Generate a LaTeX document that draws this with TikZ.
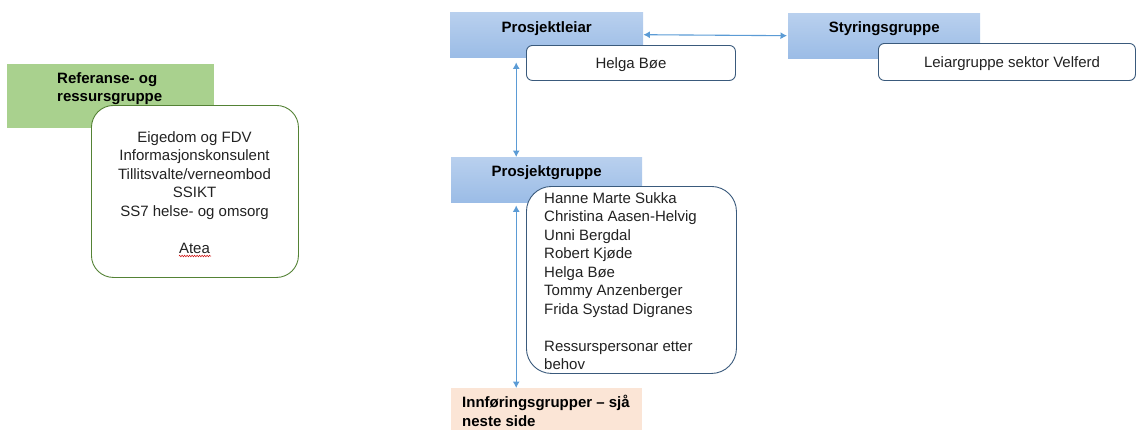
\documentclass[tikz,border=0pt]{standalone}
\usepackage{fontspec}
\setmainfont{Liberation Sans}
\usetikzlibrary{arrows.meta,decorations.pathmorphing}
\definecolor{arrblue}{HTML}{5B9BD5}
\definecolor{hdtop}{HTML}{B9D0EE}
\definecolor{hdbot}{HTML}{9BBCE6}
\definecolor{refgreen}{HTML}{A9D18E}
\definecolor{greenline}{HTML}{548235}
\definecolor{navyline}{HTML}{3A5A7C}
\definecolor{peach}{HTML}{FBE5D6}
\definecolor{txt}{HTML}{222222}
\begin{document}
\begin{tikzpicture}[x=1pt,y=-1pt,
  every node/.style={font=\fontsize{15}{18.5}\selectfont, text=txt},
  header/.style={anchor=north west, inner sep=0pt, draw=none, top color=hdtop, bottom color=hdbot},
  hdtext/.style={font=\fontsize{15}{18.5}\selectfont\bfseries, inner sep=0pt, text=black},
  whitebox/.style={anchor=north west, inner sep=0pt, draw=navyline, fill=white, line width=0.9pt},
  arr/.style={draw=arrblue, line width=1.1pt, {Latex[length=6.5pt,width=7pt]}-{Latex[length=6.5pt,width=7pt]}}
]
\useasboundingbox (0,0) rectangle (1137,429);

% Referanse- og ressursgruppe
\node[anchor=north west, inner sep=0pt, fill=refgreen, minimum width=207pt, minimum height=64pt] (ref) at (7,64) {};
\node[hdtext, align=left, anchor=north west] (reft) at (57,72) {Referanse- og\\ressursgruppe};
\node[anchor=north west, inner sep=0pt, draw=greenline, fill=white, line width=0.9pt, rounded corners=22pt, minimum width=207pt, minimum height=172pt] (res) at (91,105) {};
\node[align=center, anchor=north, inner sep=0pt] (rest) at (194.5,131) {Eigedom og FDV\\Informasjonskonsulent\\Tillitsvalte/verneombod\\SSIKT\\SS7 helse- og omsorg\\[18.5pt]Atea};
\coordinate (wavya) at (179,256);
\coordinate (wavyb) at (211,256);
\draw[red!80!black, line width=0.5pt, decorate, decoration={zigzag, segment length=2.5pt, amplitude=0.8pt}] (wavya) -- (wavyb);

% Prosjektleiar
\node[header, minimum width=193pt, minimum height=45pt] (pl) at (450,12) {};
\node[hdtext] (plt) at ([yshift=-16.5pt]pl.north) {Prosjektleiar};
\node[whitebox, rounded corners=6pt, minimum width=209pt, minimum height=35pt] (plb) at (526,45) {};
\node (plbt) at ([yshift=-1.5pt]plb.center) {Helga Bøe};

% Styringsgruppe
\node[header, minimum width=192pt, minimum height=45pt] (sg) at (788,13) {};
\node[hdtext] (sgt) at ([yshift=-15.5pt]sg.north) {Styringsgruppe};
\node[whitebox, rounded corners=6pt, minimum width=257pt, minimum height=37pt] (sgb) at (878,43) {};
\node (sgbt) at (1012,63.5) {Leiargruppe sektor Velferd};

% Prosjektgruppe
\node[header, minimum width=191pt, minimum height=45pt] (pg) at (451,157) {};
\node[hdtext] (pgt) at ([yshift=-15.5pt]pg.north) {Prosjektgruppe};
\node[whitebox, rounded corners=25pt, minimum width=210pt, minimum height=187pt] (pgb) at (526,186) {};
\node[align=left, anchor=north west, inner sep=0pt] (pgbt) at (544,192) {Hanne Marte Sukka\\Christina Aasen-Helvig\\Unni Bergdal\\Robert Kjøde\\Helga Bøe\\Tommy Anzenberger\\Frida Systad Digranes\\[18.5pt]Ressurspersonar etter\\behov};

% Innføringsgrupper
\node[anchor=north west, inner sep=0pt, fill=peach, minimum width=191pt, minimum height=42pt] (inn) at (451,388) {};
\node[hdtext, align=left, anchor=north west] (innt) at (462,395) {Innføringsgrupper – sjå\\neste side};

% Connectors
\draw[arr, shorten <=0pt, shorten >=1pt] (pl.east) -- (sg.west);
\draw[arr, shorten <=5pt, shorten >=0pt] ([xshift=-30.5pt]pl.south) -- ([xshift=-30.5pt]pl.south |- pg.north);
\draw[arr, shorten <=3pt, shorten >=0pt] ([xshift=-30.5pt]pl.south |- pg.south) -- ([xshift=-30.5pt]pl.south |- inn.north);
\end{tikzpicture}
\end{document}
